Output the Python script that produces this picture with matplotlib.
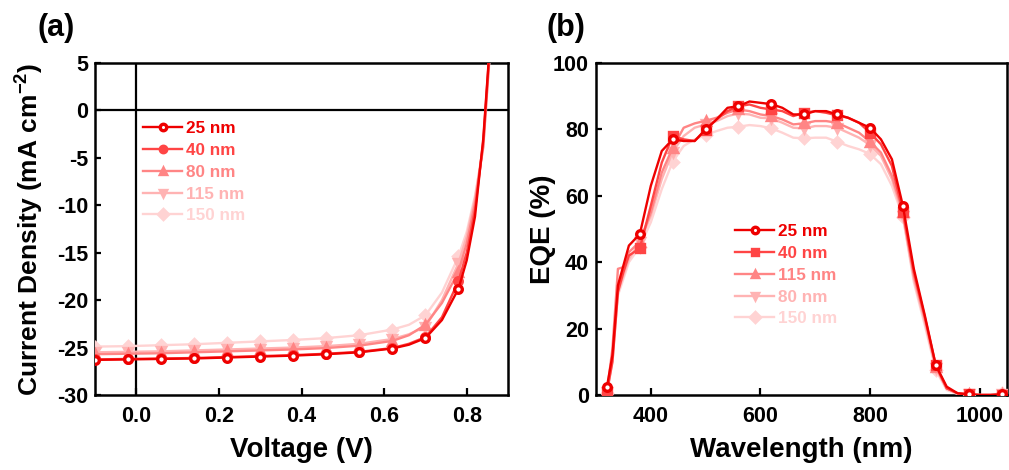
"""
J-V curves and EQE spectra for different layer thicknesses.
"""
import numpy as np
import matplotlib
matplotlib.use('Agg')
import matplotlib.pyplot as plt

plt.rcParams['font.family'] = ['Liberation Sans', 'DejaVu Sans']
plt.rcParams['font.weight'] = 'bold'
plt.rcParams['axes.labelweight'] = 'bold'
plt.rcParams['axes.unicode_minus'] = False
plt.rcParams['mathtext.fontset'] = 'custom'
plt.rcParams['mathtext.rm'] = 'Liberation Sans:bold'
plt.rcParams['mathtext.bf'] = 'Liberation Sans:bold'

# colours, darkest to lightest
colors = ['#ee0000', '#ff4545', '#ff8585', '#ffb3b3', '#ffd3d3']

# ---- (a) J-V data
voltage = [-0.1, -0.02, 0.06, 0.14, 0.22, 0.30, 0.38, 0.46, 0.54, 0.62,
           0.66, 0.70, 0.74, 0.78, 0.80, 0.82, 0.84, 0.86]
jv_marker_v = [-0.1, -0.02, 0.06, 0.14, 0.22, 0.30, 0.38, 0.46, 0.54, 0.62, 0.70, 0.78]
jv_labels = ['25 nm', '40 nm', '80 nm', '115 nm', '150 nm']
jv_markers = ['o', 'o', '^', 'v', 'D']
j_25 = [-26.3, -26.25, -26.2, -26.15, -26.05, -25.95, -25.85, -25.7, -25.5, -25.1,
        -24.7, -24.0, -22.1, -18.8, -15.8, -11.2, -3.0, 9.5]
j_40 = [-26.25, -26.2, -26.15, -26.1, -26.0, -25.9, -25.8, -25.65, -25.45, -25.05,
        -24.6, -23.9, -21.8, -18.0, -15.0, -10.5, -3.3, 9.3]
j_80 = [-25.7, -25.65, -25.6, -25.5, -25.4, -25.3, -25.2, -25.05, -24.8, -24.3,
        -23.7, -22.6, -20.3, -17.0, -14.0, -9.8, -3.8, 9.0]
j_115 = [-25.5, -25.45, -25.4, -25.3, -25.2, -25.1, -25.0, -24.85, -24.6, -24.1,
         -23.6, -22.8, -20.0, -16.1, -13.3, -9.3, -3.7, 8.8]
j_150 = [-24.9, -24.85, -24.75, -24.65, -24.5, -24.35, -24.2, -24.0, -23.7, -23.1,
         -22.6, -21.6, -19.2, -15.4, -12.8, -9.0, -4.0, 8.3]

# ---- (b) EQE data
wavelength = [320, 330, 340, 350, 360, 380, 400, 420, 440, 460, 480, 500, 520, 540,
              560, 580, 600, 620, 640, 660, 680, 700, 720, 740, 760, 780, 800, 820,
              840, 860, 880, 900, 920, 940, 960, 980, 1000, 1020, 1040]
eqe_marker_wl = [320, 380, 440, 500, 560, 620, 680, 740, 800, 860, 920, 980, 1040]
eqe_labels = ['25 nm', '40 nm', '115 nm', '80 nm', '150 nm']
eqe_markers = ['o', 's', '^', 'v', 'D']
eqe_25 = [2.5, 12, 33, 39, 45, 48.5, 63, 73.5, 77, 76.5, 76.5, 80, 83, 86.5, 87, 88.4,
          88, 87.6, 86.5, 84.5, 84.5, 85.5, 85.5, 84.5, 83.5, 82, 80.5, 77, 71, 57, 38,
          24, 9, 2.5, 0.5, 0.2, 0, 0, 0.2]
eqe_40 = [1.0, 10, 31, 37, 42, 44.2, 57, 70, 78, 77, 76.5, 79.8, 83, 85.5, 87, 87.5,
          86.5, 86, 85.5, 84, 85, 85.5, 85, 84.2, 83.5, 82, 79, 75.5, 69, 55.2, 37,
          23.5, 9, 2, 0.5, 0.2, 0, 0, 0]
eqe_115 = [1.0, 14, 38, 38.5, 43, 46.2, 55, 67, 74.5, 80.5, 81.8, 82.6, 83.5, 85, 86,
           85.5, 84.5, 84, 83, 81.5, 81.8, 82.5, 82.5, 82, 80.5, 79, 76.3, 73, 66, 55,
           36, 23, 8.5, 2, 0.5, 0.2, 0, 0, 0.3]
eqe_80 = [0.8, 11, 31, 36, 41, 46, 54, 65, 73.3, 78, 80.5, 81.5, 82.5, 84, 84.8, 84.5,
          83.5, 83.3, 82, 80.5, 80.3, 81, 81, 80.5, 79, 77.5, 75.3, 72, 65, 54, 35, 22,
          8, 2, 0.5, 0.2, 0, 0, 0.3]
eqe_150 = [0.5, 10, 30, 35, 40, 44.7, 52, 62, 70.3, 75, 77, 78.3, 79.5, 80.5, 80.8,
           81.3, 81, 80.3, 79, 77.5, 77.3, 77.5, 77.5, 76.3, 75, 74, 72.6, 69.5, 63,
           53.7, 34, 21, 7.5, 1.5, 0.3, 0.2, 0, 0, 0.5]


def style_axes(ax):
  for sp in ax.spines.values():
    sp.set_linewidth(1.8)
  ax.tick_params(direction='in', width=1.6, length=4, labelsize=15.5, pad=5)
  ax.tick_params(axis='x', length=5, pad=8)


def place_labels(ax, ycoord):
  ax.xaxis.set_label_coords(0.5, -0.166)
  ax.xaxis.label.set_va('center')
  ax.yaxis.set_label_coords(ycoord, 0.5)
  ax.yaxis.label.set_va('center')


def add_legend(ax, anchor):
  h, l = ax.get_legend_handles_labels()
  ax.legend(h[::-1], l[::-1], loc='upper left', bbox_to_anchor=anchor,
            frameon=False, prop={'size': 12.3, 'weight': 'bold'}, borderpad=0,
            borderaxespad=0, handlelength=2.3, handletextpad=0.2, labelspacing=0.4,
            labelcolor='linecolor', markerscale=0.85)


fig = plt.figure(figsize=(10.09, 4.70), dpi=100)
ax1 = fig.add_axes([0.0942, 0.1596, 0.4093, 0.7064])
ax2 = fig.add_axes([0.5907, 0.1596, 0.4073, 0.7064])

# (a)
jv_all = [j_25, j_40, j_80, j_115, j_150]
mk = list(np.where(np.isin(np.round(voltage, 3), np.round(jv_marker_v, 3)))[0])
ax1.axhline(0, color='black', lw=1.6, zorder=1)
ax1.axvline(0, color='black', lw=1.6, zorder=1)
for i in range(len(jv_all) - 1, -1, -1):
  face = 'white' if i == 0 else colors[i]
  ax1.plot(voltage, jv_all[i], color=colors[i], lw=1.7, marker=jv_markers[i],
           ms=5.5, mfc=face, mec=colors[i], mew=2.4, markevery=mk,
           label=jv_labels[i], zorder=3 + (5 - i))
ax1.set_xlim(-0.1, 0.9)
ax1.set_ylim(-30, 5)
ax1.set_xticks([0.0, 0.2, 0.4, 0.6, 0.8])
ax1.set_xticklabels(['0.0', '0.2', '0.4', '0.6', '0.8'])
ax1.set_yticks([5, 0, -5, -10, -15, -20, -25, -30])
ax1.set_xlabel('Voltage (V)', fontsize=20)
ax1.set_ylabel(r'Current Density (mA cm$^{\mathbf{-2}}$)', fontsize=19)
place_labels(ax1, -0.162)
style_axes(ax1)
add_legend(ax1, (0.116, 0.825))
fig.text(0.037, 0.94, '(a)', fontsize=22, fontweight='bold', va='center')

# (b)
eqe_all = [eqe_25, eqe_40, eqe_115, eqe_80, eqe_150]
mk2 = list(np.where(np.isin(wavelength, eqe_marker_wl))[0])
for i in range(len(eqe_all) - 1, -1, -1):
  face = 'white' if i == 0 else colors[i]
  ax2.plot(wavelength, eqe_all[i], color=colors[i], lw=1.7, marker=eqe_markers[i],
           ms=5.5, mfc=face, mec=colors[i], mew=2.4, markevery=mk2,
           label=eqe_labels[i], zorder=3 + (5 - i))
ax2.set_xlim(300, 1050)
ax2.set_ylim(0, 100)
ax2.set_xticks([400, 600, 800, 1000])
ax2.set_yticks([0, 20, 40, 60, 80, 100])
ax2.set_xlabel('Wavelength (nm)', fontsize=20)
ax2.set_ylabel('EQE (%)', fontsize=20)
place_labels(ax2, -0.129)
style_axes(ax2)
add_legend(ax2, (0.338, 0.515))
fig.text(0.542, 0.94, '(b)', fontsize=22, fontweight='bold', va='center')

fig.savefig('out.png', dpi=100)
